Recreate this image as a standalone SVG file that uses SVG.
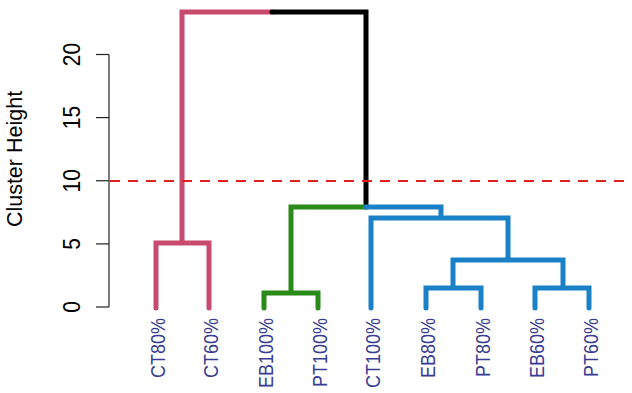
<svg xmlns="http://www.w3.org/2000/svg" width="632" height="393" viewBox="0 0 632 393">
<style>
.t{font-family:"Liberation Sans",Arial,sans-serif;fill:#000}
.tick{font-size:21px}
.leaf{font-family:"Liberation Sans",Arial,sans-serif;font-size:18px;fill:#383c92;text-anchor:end}
.br{fill:none;stroke-width:5;stroke-linejoin:miter;stroke-linecap:round}
</style>
<rect width="632" height="393" fill="#fff"/>
<g id="axis" stroke="#222" stroke-width="1.2">
<line x1="109" y1="54.5" x2="109" y2="307"/>
<line x1="96" y1="307" x2="109" y2="307"/>
<line x1="96" y1="243.9" x2="109" y2="243.9"/>
<line x1="96" y1="180.75" x2="109" y2="180.75"/>
<line x1="96" y1="117.6" x2="109" y2="117.6"/>
<line x1="96" y1="54.5" x2="109" y2="54.5"/>
</g>
<g id="ticklabels" class="t tick" text-anchor="middle">
<text transform="translate(79.5,307) rotate(-90) scale(1,1.1)">0</text>
<text transform="translate(79.5,243.9) rotate(-90) scale(1,1.1)">5</text>
<text transform="translate(79.5,180.75) rotate(-90) scale(1,1.1)">10</text>
<text transform="translate(79.5,117.6) rotate(-90) scale(1,1.1)">15</text>
<text transform="translate(79.5,54.5) rotate(-90) scale(1,1.1)">20</text>
</g>
<text id="ylabel" class="t" font-size="21.5" text-anchor="middle" transform="translate(21.5,159) rotate(-90)">Cluster Height</text>
<g id="connectors">
<path class="br" stroke="#c84a6e" d="M156,308 V243 H209 V308 M182,243 V12 H272"/>
<path class="br" stroke="#000" d="M272,12 H366 V207"/>
<path class="br" stroke="#2a8a1a" d="M366,207 H291 V293 M264,308 V293 H318 V308"/>
<path class="br" stroke="#1a80c8" d="M366,207 H441 V218 M371,308 V218 H508 V260 M453,288 V260 H563 V288 M426,308 V288 H481 V308 M535,308 V288 H589 V308"/>
</g>
<line id="cutoff" x1="110" y1="181" x2="630" y2="181" stroke="#e0201c" stroke-width="2" stroke-dasharray="10,8"/>
<g id="leaf-CT80"><text class="leaf" transform="translate(165,318) rotate(-90) scale(1,1.15)">CT80%</text></g>
<g id="leaf-CT60"><text class="leaf" transform="translate(218,318) rotate(-90) scale(1,1.15)">CT60%</text></g>
<g id="leaf-EB100"><text class="leaf" transform="translate(273,318) rotate(-90) scale(1,1.15)">EB100%</text></g>
<g id="leaf-PT100"><text class="leaf" transform="translate(327,318) rotate(-90) scale(1,1.15)">PT100%</text></g>
<g id="leaf-CT100"><text class="leaf" transform="translate(380,318) rotate(-90) scale(1,1.15)">CT100%</text></g>
<g id="leaf-EB80"><text class="leaf" transform="translate(435,318) rotate(-90) scale(1,1.15)">EB80%</text></g>
<g id="leaf-PT80"><text class="leaf" transform="translate(490,318) rotate(-90) scale(1,1.15)">PT80%</text></g>
<g id="leaf-EB60"><text class="leaf" transform="translate(544,318) rotate(-90) scale(1,1.15)">EB60%</text></g>
<g id="leaf-PT60"><text class="leaf" transform="translate(598,318) rotate(-90) scale(1,1.15)">PT60%</text></g>
</svg>
